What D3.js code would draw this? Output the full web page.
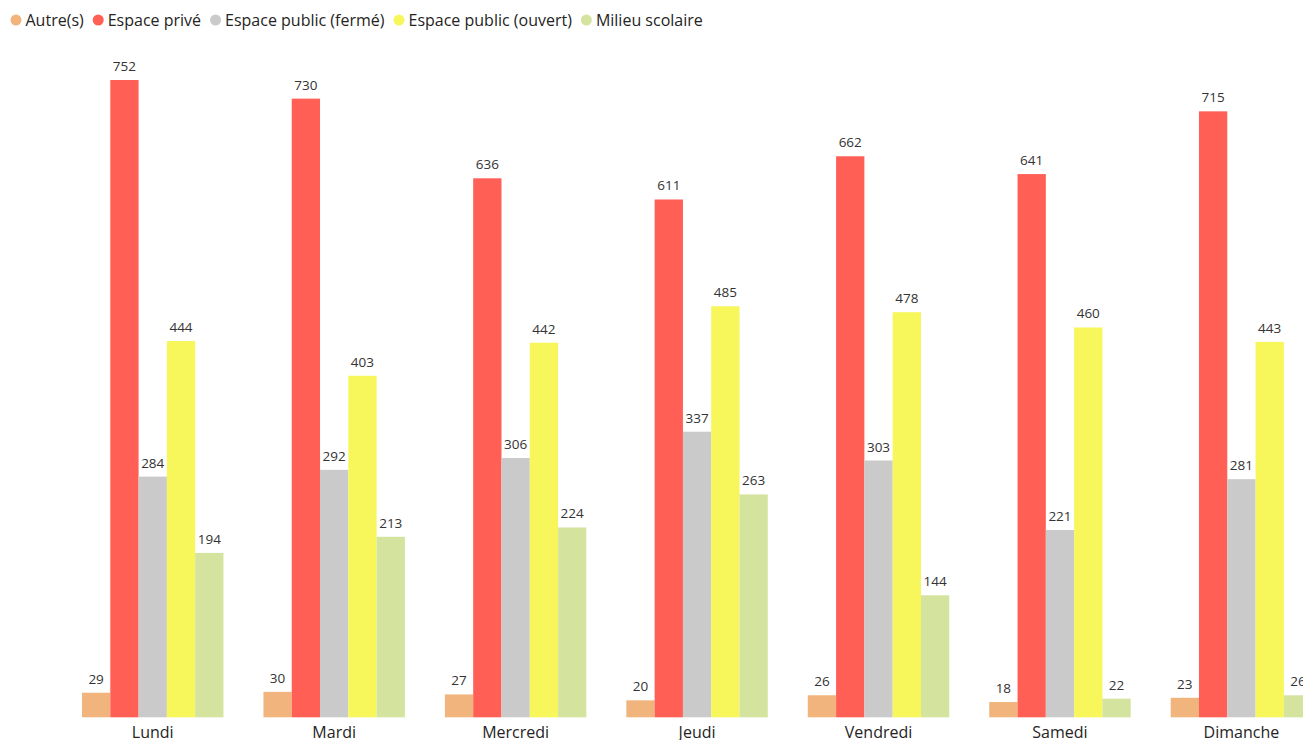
<!DOCTYPE html>
<html>
<head>
<meta charset="utf-8">
<script src="https://cdn.jsdelivr.net/npm/d3@7"></script>
<style>
body{margin:0;background:#fff;}
svg{display:block;font-family:"Open Sans","Noto Sans",sans-serif;}
</style>
</head>
<body>
<svg id="chart" width="1303" height="740"></svg>
<script>
const days = ["Lundi","Mardi","Mercredi","Jeudi","Vendredi","Samedi","Dimanche"];
const seriesNames = ["Autre(s)","Espace privé","Espace public (fermé)","Espace public (ouvert)","Milieu scolaire"];
const colors = ["#F0B47C","#FF5F55","#CACACA","#F7F65A","#D4E49F"];
const autres = [29,30,27,20,26,18,23];
const prive = [752,730,636,611,662,641,715];
const publicFerme = [284,292,306,337,303,221,281];
const publicOuvert = [444,403,442,485,478,460,443];
const milieuScolaire = [194,213,224,263,144,22,26];
const seriesValues = [autres, prive, publicFerme, publicOuvert, milieuScolaire];

const svg = d3.select("#chart");

const x0 = d3.scaleBand().domain(days).range([62, 62 + 7*181.45]).paddingInner(0.2204).paddingOuter(0.1102);
const x1 = d3.scaleBand().domain(seriesNames).range([0, x0.bandwidth()]).padding(0);
const y = d3.scaleLinear().domain([0, 752]).range([717.3, 80]);

const g = svg.append("g");
days.forEach((day, di) => {
  const grp = g.append("g").attr("transform", `translate(${x0(day)},0)`);
  seriesNames.forEach((s, si) => {
    const v = seriesValues[si][di];
    grp.append("rect")
      .attr("x", x1(s))
      .attr("y", y(v))
      .attr("width", x1.bandwidth())
      .attr("height", y(0) - y(v))
      .attr("fill", colors[si]);
    grp.append("text")
      .attr("x", x1(s) + x1.bandwidth()/2)
      .attr("y", y(v) - 9)
      .attr("text-anchor", "middle")
      .attr("font-size", 13.5)
      .attr("fill", "#333")
      .text(v);
  });
});

const xAxis = svg.append("g").attr("transform", "translate(0,717.3)")
  .call(d3.axisBottom(x0).tickSize(0).tickPadding(9.5));
xAxis.select(".domain").remove();
xAxis.selectAll("text").attr("font-size", 16).attr("fill", "#252423")
  .attr("font-family", "'Open Sans','Noto Sans',sans-serif");

// legend
const leg = svg.append("g");
let lx = 16;
seriesNames.forEach((s, i) => {
  leg.append("circle").attr("cx", lx).attr("cy", 20).attr("r", 5.5).attr("fill", colors[i]);
  const t = leg.append("text").attr("x", lx + 9.5).attr("y", 25.5)
    .attr("font-size", 16).attr("fill", "#252423").text(s);
  const w = t.node().getComputedTextLength();
  lx += 9.5 + w + 14.5;
});
</script>
</body>
</html>
